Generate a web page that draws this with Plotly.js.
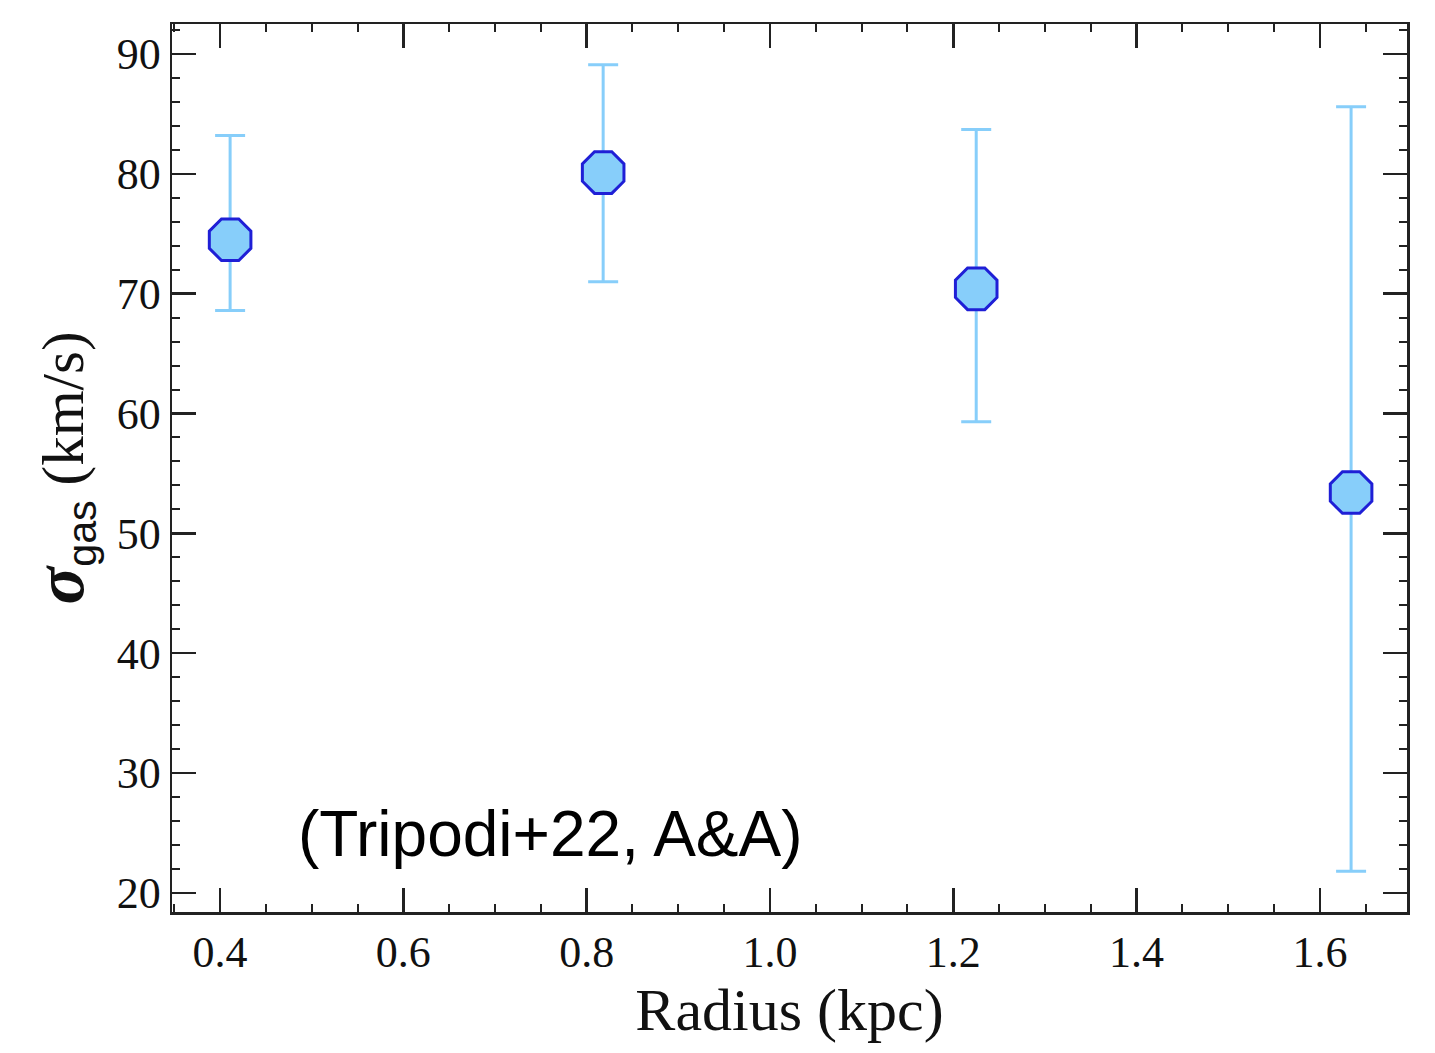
<!DOCTYPE html>
<html>
<head>
<meta charset="utf-8">
<script src="https://cdn.plot.ly/plotly-3.0.1.min.js"></script>
<style>html,body{margin:0;padding:0;background:#fff;}#chart{width:1435px;height:1053px;}</style>
</head>
<body>
<div id="chart"></div>
<script>
const radius = [0.411, 0.818, 1.225, 1.634];
const sigmaGas = [74.5, 80.1, 70.4, 53.4];
const errPlus = [8.7, 9.0, 13.3, 32.2];
const errMinus = [5.9, 9.1, 11.1, 31.6];
const xTickVals = [0.4, 0.6, 0.8, 1.0, 1.2, 1.4, 1.6];
const xTickText = ['0.4', '0.6', '0.8', '1.0', '1.2', '1.4', '1.6'];
const yTickVals = [20, 30, 40, 50, 60, 70, 80, 90];
const noteText = '(Tripodi+22, A&A)';

const trace = {
  x: radius, y: sigmaGas, type: 'scatter', mode: 'markers',
  marker: {symbol: 'octagon', size: 45, color: '#87CEFA', line: {color: '#1f1fd6', width: 3}},
  error_y: {type: 'data', symmetric: false, array: errPlus, arrayminus: errMinus,
            color: '#87CEFA', thickness: 3, width: 15},
  hoverinfo: 'skip'
};

const serif = 'Liberation Serif, Times New Roman, serif';
const axisCommon = {
  showline: true, linecolor: '#222', linewidth: 2.5, mirror: 'allticks',
  ticks: 'inside', ticklen: 24, tickwidth: 2.5, tickcolor: '#222',
  showgrid: false, zeroline: false,
  tickfont: {family: serif, size: 44, color: '#111'}
};

const layout = {
  width: 1435, height: 1053,
  margin: {l: 172, r: 28, t: 24, b: 141},
  paper_bgcolor: '#fff', plot_bgcolor: '#fff',
  showlegend: false,
  xaxis: Object.assign({}, axisCommon, {
    range: [0.3476, 1.695], tickvals: xTickVals, ticktext: xTickText,
    minor: {dtick: 0.05, tick0: 0, ticks: 'inside', ticklen: 8, tickwidth: 2, tickcolor: '#222'},
    title: {text: 'Radius (kpc)', font: {family: serif, size: 60, color: '#111'}, standoff: 2}
  }),
  yaxis: Object.assign({}, axisCommon, {
    range: [18.4, 92.5], tickvals: yTickVals,
    minor: {dtick: 2, tick0: 0, ticks: 'inside', ticklen: 8, tickwidth: 2, tickcolor: '#222'},
    title: {text: "<b><i><span style='font-size:70px'>σ</span></i></b><sub><span style='font-family:Liberation Sans'>gas</span></sub> (km/s)",
            font: {family: serif, size: 59, color: '#111'}, standoff: 14}
  }),
  annotations: [{
    x: 0.761, y: 24.9, xref: 'x', yref: 'y', text: noteText, showarrow: false,
    font: {family: 'Liberation Sans, Arial, sans-serif', size: 64, color: '#000'}
  }]
};

Plotly.newPlot('chart', [trace], layout, {displayModeBar: false, staticPlot: true});
</script>
</body>
</html>
